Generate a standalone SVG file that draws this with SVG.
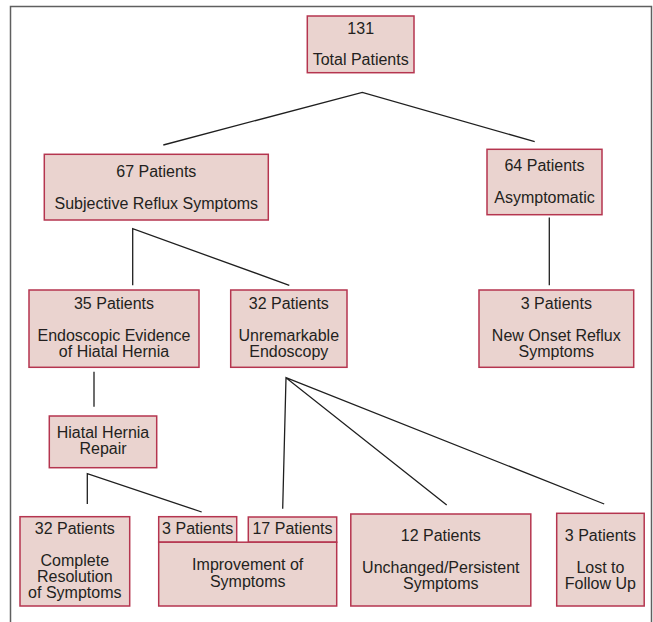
<svg xmlns="http://www.w3.org/2000/svg" width="653" height="622" viewBox="0 0 653 622">
<style>
.box{fill:#ead3cf;stroke:#b5354f;stroke-width:1.5}
.t{font-family:"Liberation Sans",Arial,sans-serif;font-size:16px;fill:#231f20;text-anchor:middle}
.c{fill:none;stroke:#1f1f1f;stroke-width:1.3}
.frame{fill:none;stroke:#5f5f5f;stroke-width:1.5}
</style>
<rect width="653" height="622" fill="#ffffff"/>
<path class="frame" d="M10.5,622 V6.5 H651.5 V622"/>
<g id="connectors">
<path class="c" d="M163.3,145 L362.3,92.3 L534.7,141.7"/>
<path class="c" d="M549.3,217.5 V285.3"/>
<path class="c" d="M132.7,285.3 V228.7 L289.3,285.3"/>
<path class="c" d="M94,371.7 V406.7"/>
<path class="c" d="M87.3,504 V473.7 L201.7,512"/>
<path class="c" d="M282.7,508.7 L286,377.7 L446.7,505 M286,377.7 L604.2,504"/>
</g>
<g id="total">
<rect class="box" x="307.3" y="16" width="106.7" height="56.7"/>
<text class="t" x="360.7" y="33.5">131</text>
<text class="t" x="360.7" y="64.5">Total Patients</text>
</g>
<g id="subjective">
<rect class="box" x="44.3" y="154.3" width="224" height="65.7"/>
<text class="t" x="156.3" y="176.5">67 Patients</text>
<text class="t" x="156.3" y="208.5">Subjective Reflux Symptoms</text>
</g>
<g id="asymptomatic">
<rect class="box" x="487" y="149.3" width="115" height="65.4"/>
<text class="t" x="544.5" y="170.7">64 Patients</text>
<text class="t" x="544.5" y="203">Asymptomatic</text>
</g>
<g id="hernia">
<rect class="box" x="29" y="290" width="170" height="77.3"/>
<text class="t" x="114" y="309.3">35 Patients</text>
<text class="t" x="114" y="341">Endoscopic Evidence</text>
<text class="t" x="114" y="357">of Hiatal Hernia</text>
</g>
<g id="unremarkable">
<rect class="box" x="230.7" y="290" width="116.3" height="77.3"/>
<text class="t" x="288.8" y="309.3">32 Patients</text>
<text class="t" x="288.8" y="341">Unremarkable</text>
<text class="t" x="288.8" y="357">Endoscopy</text>
</g>
<g id="newonset">
<rect class="box" x="479" y="290" width="154.7" height="77.3"/>
<text class="t" x="556.3" y="309.3">3 Patients</text>
<text class="t" x="556.3" y="341">New Onset Reflux</text>
<text class="t" x="556.3" y="357">Symptoms</text>
</g>
<g id="repair">
<rect class="box" x="49.3" y="416" width="107.4" height="51.7"/>
<text class="t" x="103" y="438">Hiatal Hernia</text>
<text class="t" x="103" y="454">Repair</text>
</g>
<g id="complete">
<rect class="box" x="20" y="516.7" width="109.7" height="89.3"/>
<text class="t" x="74.8" y="533.7">32 Patients</text>
<text class="t" x="74.8" y="566">Complete</text>
<text class="t" x="74.8" y="582">Resolution</text>
<text class="t" x="74.8" y="598">of Symptoms</text>
</g>
<g id="improvement">
<rect class="box" x="158.7" y="516.7" width="78" height="25.5"/>
<rect class="box" x="248.3" y="517" width="88.4" height="25.2"/>
<rect class="box" x="158.7" y="542.2" width="178" height="63.8"/>
<text class="t" x="197.7" y="534">3 Patients</text>
<text class="t" x="292.5" y="534">17 Patients</text>
<text class="t" x="247.7" y="570.3">Improvement of</text>
<text class="t" x="247.7" y="586.5">Symptoms</text>
</g>
<g id="unchanged">
<rect class="box" x="350.8" y="514" width="180" height="92"/>
<text class="t" x="440.8" y="540.7">12 Patients</text>
<text class="t" x="440.8" y="572.7">Unchanged/Persistent</text>
<text class="t" x="440.8" y="588.5">Symptoms</text>
</g>
<g id="lost">
<rect class="box" x="556.7" y="513.3" width="87.5" height="92.7"/>
<text class="t" x="600.4" y="540.7">3 Patients</text>
<text class="t" x="600.4" y="572.7">Lost to</text>
<text class="t" x="600.4" y="588.5">Follow Up</text>
</g>
</svg>
